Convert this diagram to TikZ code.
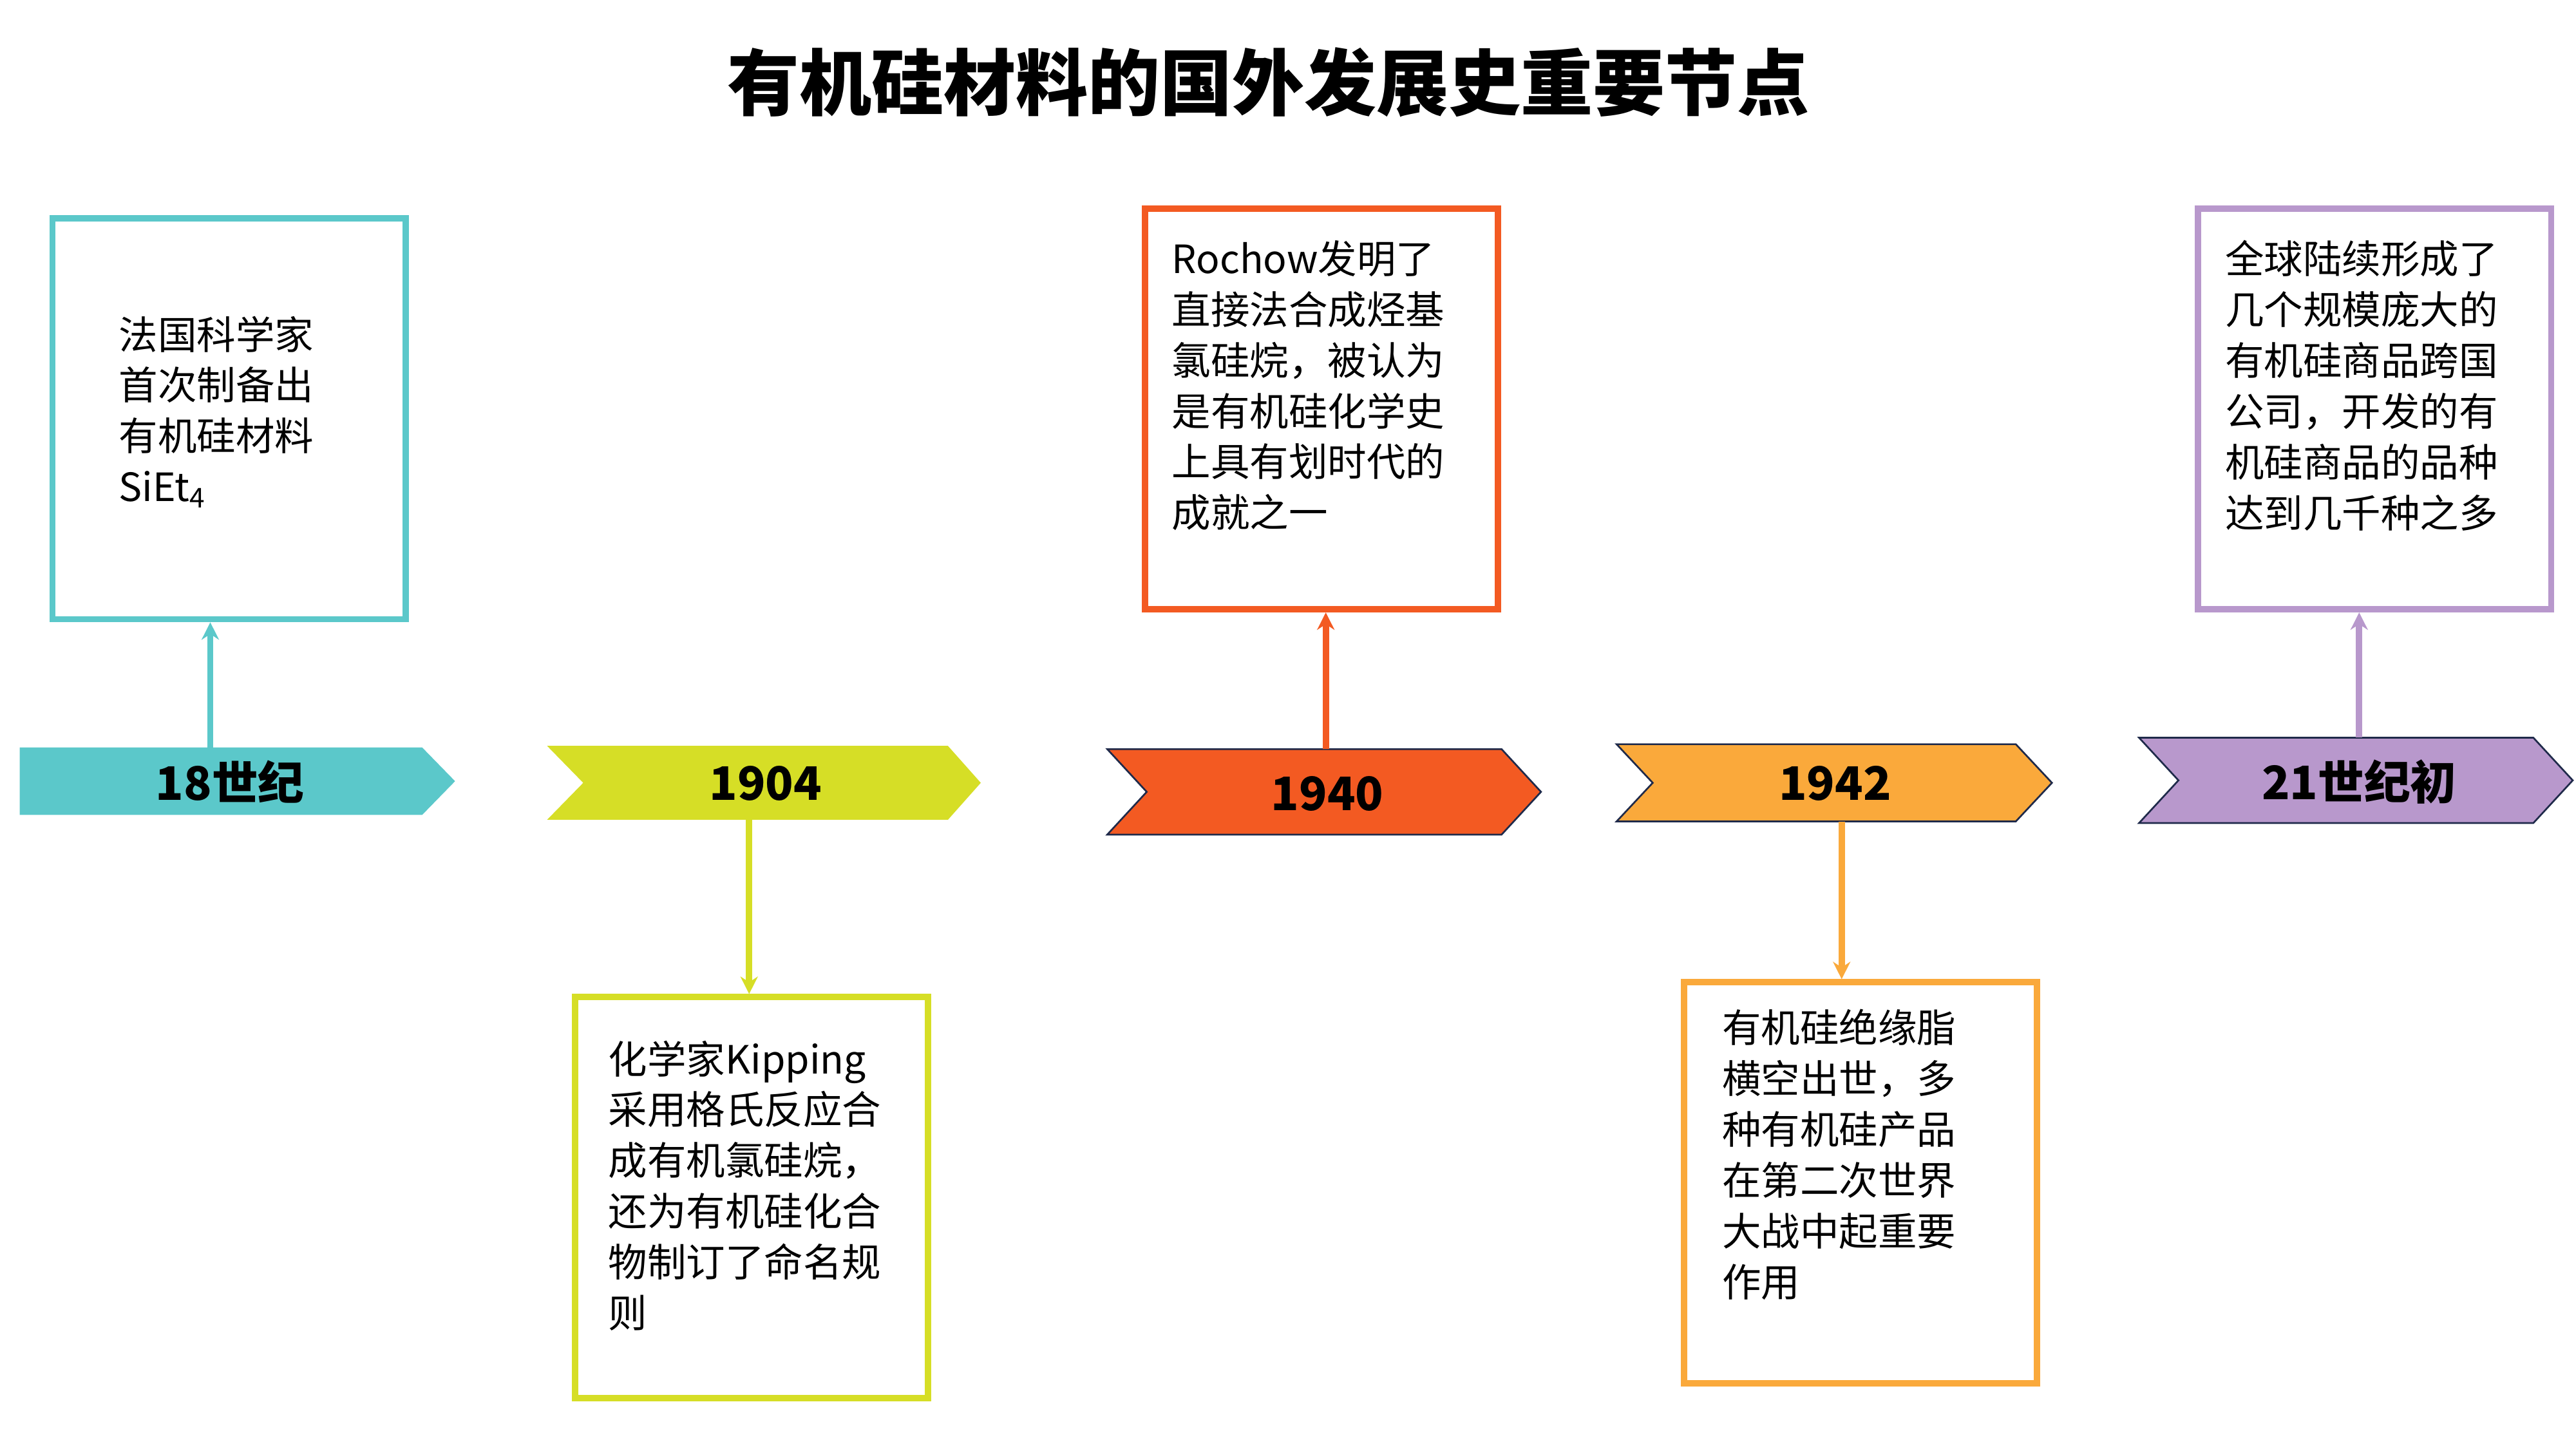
\documentclass[tikz,border=0pt]{standalone}
\usepackage{fontspec}
\usetikzlibrary{arrows.meta}
\setmainfont{Noto Sans CJK SC}
\definecolor{cA}{HTML}{5BC8CA}
\definecolor{cB}{HTML}{D6DE26}
\definecolor{cC}{HTML}{F35A22}
\definecolor{cD}{HTML}{FAA93B}
\definecolor{cE}{HTML}{B898CC}
\definecolor{nav}{HTML}{1F2A4A}
\begin{document}
\begin{tikzpicture}[x=0.02cm,y=-0.02cm]
\tikzset{
 infobox/.style={draw=#1,line width=2.2pt,minimum width=4.3cm,minimum height=4.88cm,anchor=north west},
 boxtext/.style={anchor=north west,align=left,inner sep=0pt,font=\fontsize{13.5}{17.6}\selectfont},
 lbl/.style={font=\fontsize{16}{18}\selectfont\bfseries},
 conn/.style={draw=#1,line width=2.2pt,-{Stealth[length=6pt,width=6pt]}}
}
\useasboundingbox (0,0) rectangle (1568,882);
\node[font=\fontsize{25}{28}\selectfont\bfseries] (title) at (772,50) {有机硅材料的国外发展史重要节点};
% chevrons
\fill[cA] (12,455) -- (257,455) -- (277,475.5) -- (257,496) -- (12,496) -- cycle;
\fill[cB] (333,454) -- (577,454) -- (597,476.5) -- (577,499) -- (333,499) -- (355,476.5) -- cycle;
\filldraw[fill=cC,draw=nav,line width=0.6pt] (674,456) -- (914,456) -- (938,482) -- (914,508) -- (674,508) -- (698,482) -- cycle;
\filldraw[fill=cD,draw=nav,line width=0.6pt] (984,453) -- (1227,453) -- (1249,476.5) -- (1227,500) -- (984,500) -- (1006,476.5) -- cycle;
\filldraw[fill=cE,draw=nav,line width=0.6pt] (1302,449) -- (1542,449) -- (1566,475) -- (1542,501) -- (1302,501) -- (1326,475) -- cycle;
\node[lbl] (l1) at (140,476) {18世纪};
\node[lbl] (l2) at (466,477) {1904};
\node[lbl] (l3) at (808,483) {1940};
\node[lbl] (l4) at (1117,477) {1942};
\node[lbl] (l5) at (1436,476) {21世纪初};
\coordinate (s1) at (128,455); \coordinate (s2) at (456,499); \coordinate (s3) at (807,456);
\coordinate (s4) at (1121,500); \coordinate (s5) at (1436,449);
% boxes
\node[infobox=cA] (b1) at (30,131) {};
\node[infobox=cB] (b2) at (348,605) {};
\node[infobox=cC] (b3) at (695,125) {};
\node[infobox=cD] (b4) at (1023,596) {};
\node[infobox=cE] (b5) at (1336,125) {};
\node[boxtext] (t1) at (72,192) {法国科学家\\首次制备出\\有机硅材料\\SiEt\textsubscript{4}};
\node[boxtext] (t2) at (370,633) {化学家Kipping\\采用格氏反应合\\成有机氯硅烷，\\还为有机硅化合\\物制订了命名规\\则};
\node[boxtext] (t3) at (713,146) {Rochow发明了\\直接法合成烃基\\氯硅烷，被认为\\是有机硅化学史\\上具有划时代的\\成就之一};
\node[boxtext] (t4) at (1048,614) {有机硅绝缘脂\\横空出世，多\\种有机硅产品\\在第二次世界\\大战中起重要\\作用};
\node[boxtext] (t5) at (1354,146) {全球陆续形成了\\几个规模庞大的\\有机硅商品跨国\\公司，开发的有\\机硅商品的品种\\达到几千种之多};
\draw[conn=cA] (s1) -- (b1.south -| s1);
\draw[conn=cB] (s2) -- (b2.north -| s2);
\draw[conn=cC] (s3) -- (b3.south -| s3);
\draw[conn=cD] (s4) -- (b4.north -| s4);
\draw[conn=cE] (s5) -- (b5.south -| s5);
\end{tikzpicture}
\end{document}
